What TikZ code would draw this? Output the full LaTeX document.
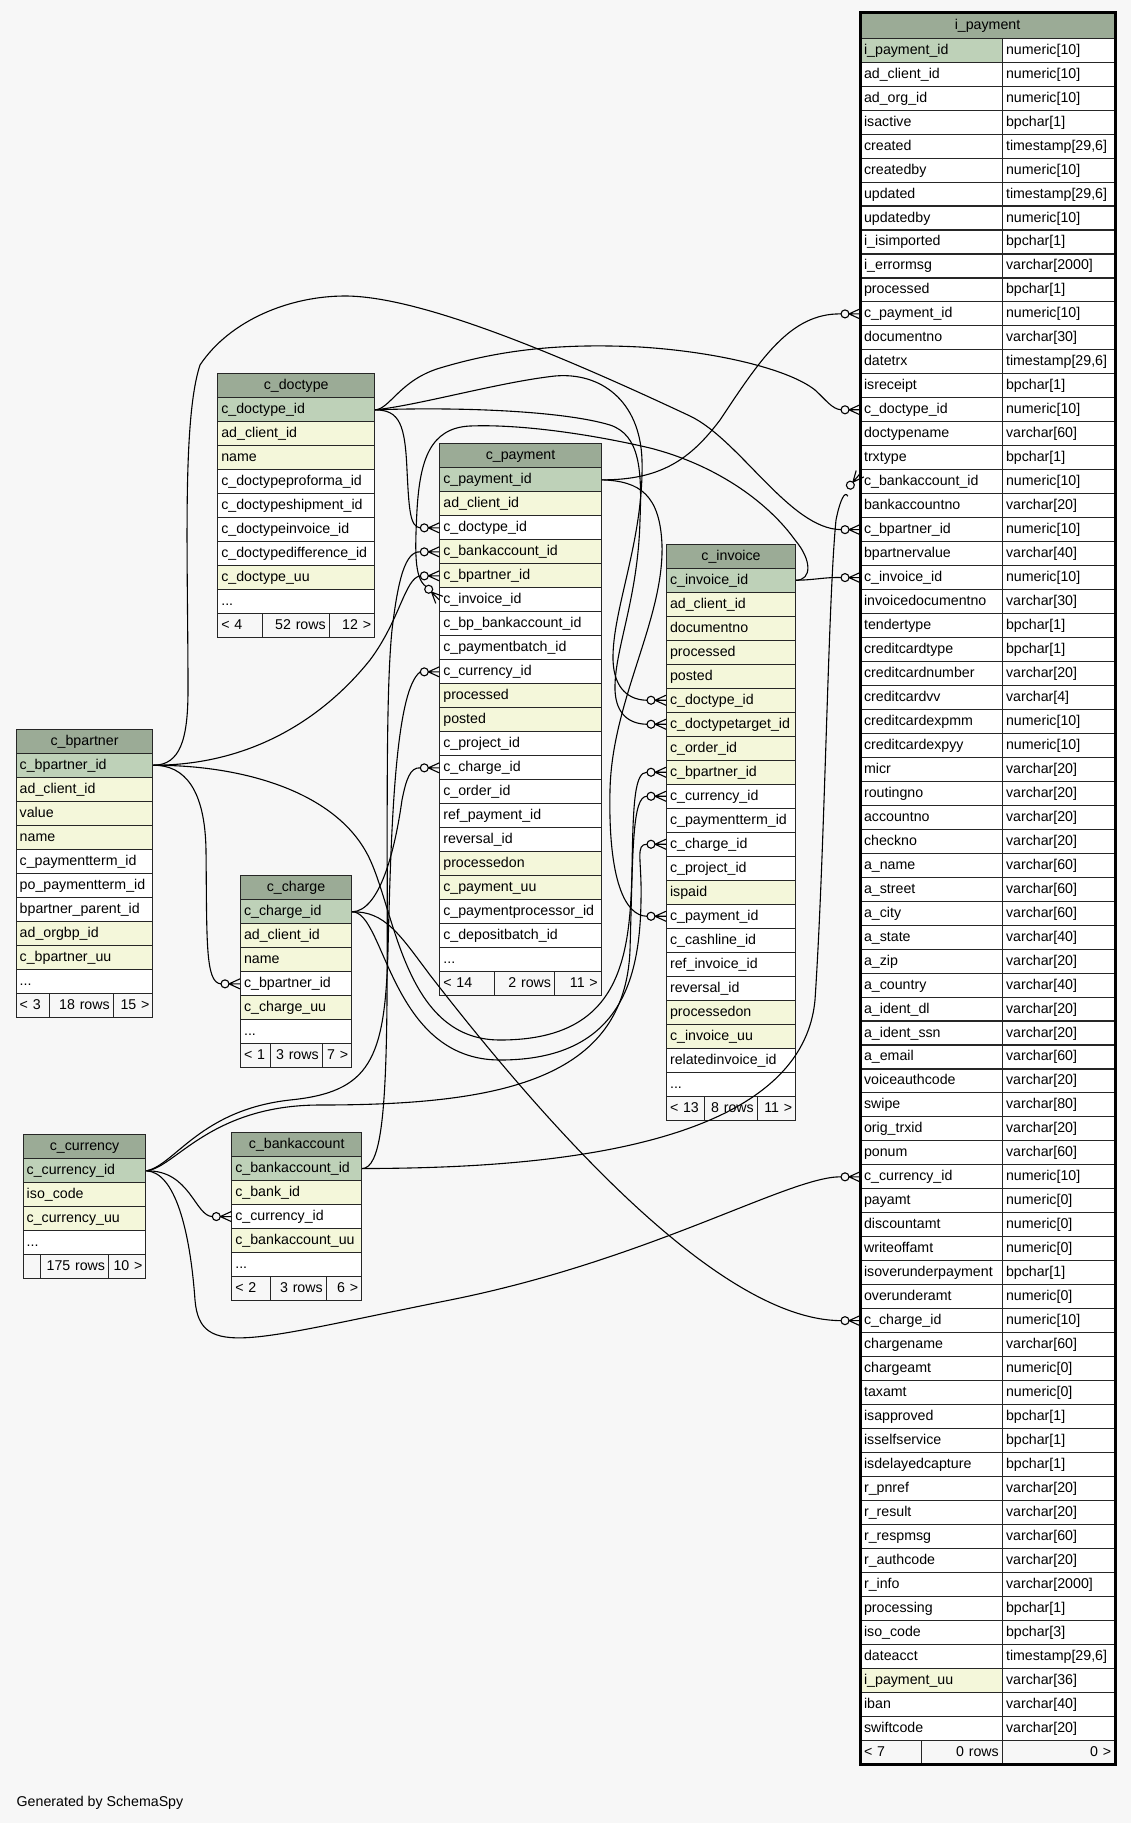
\documentclass[tikz,border=0pt]{standalone}
\usepackage{fontspec}
\setmainfont{Liberation Sans}
\definecolor{bg}{HTML}{F7F7F7}
\definecolor{hd}{HTML}{9BAB96}
\definecolor{pk}{HTML}{BED1B8}
\definecolor{ix}{HTML}{F4F7DA}
\definecolor{wt}{HTML}{FFFFFF}
\definecolor{ft}{HTML}{F7F7F7}
\newcommand\tsix{timestamp[29,6]}
\newcommand\tdots{...}
\tikzset{
  cell/.style={draw=black!85, line width=1.1pt, anchor=north west, minimum height=24pt,
    inner ysep=0pt, inner xsep=3.5pt, font=\fontsize{14.2}{16}\selectfont,
    text height=11pt, text depth=3pt},
  lcell/.style={cell, align=left},
  ccell/.style={cell, align=center},
  rcell/.style={cell, align=right},
  edge/.style={draw=black, line width=1.1pt},
}
% rows: #1 prefix, #2 x, #3 top of first row, #4 text width, #5 list
\newcommand\tblrows[5]{%
  \foreach [count=\k] \c/\t in {#5} {
    \node[lcell, fill=\c, text width=#4] (#1-\k) at (#2, {#3+24*(\k-1)}) {\t};
  }}
\newcommand\fkend[2]{%
  \begin{scope}[shift={#1}, rotate=#2]
    \draw[edge] (-15,0) circle[radius=4];
    \draw[edge] (-11,0) -- (0,-5) (-11,0) -- (0,0) (-11,0) -- (0,5);
  \end{scope}}
\begin{document}
\begin{tikzpicture}[x=1pt,y=-1pt]
\fill[bg] (0,0) rectangle (1131,1823);
\useasboundingbox (0,0) rectangle (1131,1823);

% ---------------- c_doctype
\node[ccell, fill=hd, text width=149.7pt] (dt-h) at (217.3,373.3) {c\_doctype};
\tblrows{dt}{217.3}{397.3}{149.7pt}{pk/c\_doctype\_id, ix/ad\_client\_id, ix/name, wt/c\_doctypeproforma\_id, wt/c\_doctypeshipment\_id, wt/c\_doctypeinvoice\_id, wt/c\_doctypedifference\_id, ix/c\_doctype\_uu, wt/\tdots}
\node[lcell, fill=ft, text width=37.4pt] (dt-f1) at (217.3,613.3) {< 4};
\node[rcell, fill=ft, text width=60pt] (dt-f2) at (261.7,613.3) {52 rows};
\node[rcell, fill=ft, text width=38.3pt] (dt-f3) at (328.7,613.3) {12 >};

% ---------------- c_payment
\node[ccell, fill=hd, text width=154.4pt] (pay-h) at (439.3,443.3) {c\_payment};
\tblrows{pay}{439.3}{467.3}{154.4pt}{pk/c\_payment\_id, ix/ad\_client\_id, wt/c\_doctype\_id, ix/c\_bankaccount\_id, ix/c\_bpartner\_id, wt/c\_invoice\_id, wt/c\_bp\_bankaccount\_id, wt/c\_paymentbatch\_id, wt/c\_currency\_id, ix/processed, ix/posted, wt/c\_project\_id, wt/c\_charge\_id, wt/c\_order\_id, wt/ref\_payment\_id, wt/reversal\_id, ix/processedon, ix/c\_payment\_uu, wt/c\_paymentprocessor\_id, wt/c\_depositbatch\_id, wt/\tdots}
\node[lcell, fill=ft, text width=47.7pt] (pay-f1) at (439.3,971.3) {< 14};
\node[rcell, fill=ft, text width=53pt] (pay-f2) at (494,971.3) {2 rows};
\node[rcell, fill=ft, text width=39.7pt] (pay-f3) at (554,971.3) {11 >};

% ---------------- c_invoice
\node[ccell, fill=hd, text width=122pt] (inv-h) at (666,543.7) {c\_invoice};
\tblrows{inv}{666}{567.7}{122pt}{pk/c\_invoice\_id, ix/ad\_client\_id, ix/documentno, ix/processed, ix/posted, ix/c\_doctype\_id, ix/c\_doctypetarget\_id, ix/c\_order\_id, ix/c\_bpartner\_id, wt/c\_currency\_id, wt/c\_paymentterm\_id, wt/c\_charge\_id, wt/c\_project\_id, ix/ispaid, wt/c\_payment\_id, wt/c\_cashline\_id, wt/ref\_invoice\_id, wt/reversal\_id, ix/processedon, ix/c\_invoice\_uu, wt/relatedinvoice\_id, wt/\tdots}
\node[lcell, fill=ft, text width=31.3pt] (inv-f1) at (666,1095.7) {< 13};
\node[rcell, fill=ft, text width=45.4pt] (inv-f2) at (704.3,1095.7) {8 rows};
\node[rcell, fill=ft, text width=31.3pt] (inv-f3) at (756.7,1095.7) {11 >};

% ---------------- c_bpartner
\node[ccell, fill=hd, text width=129.6pt] (bp-h) at (15.7,728.7) {c\_bpartner};
\tblrows{bp}{15.7}{752.7}{129.6pt}{pk/c\_bpartner\_id, ix/ad\_client\_id, ix/value, ix/name, wt/c\_paymentterm\_id, wt/po\_paymentterm\_id, wt/bpartner\_parent\_id, ix/ad\_orgbp\_id, ix/c\_bpartner\_uu, wt/\tdots}
\node[lcell, fill=ft, text width=26.6pt] (bp-f1) at (15.7,992.7) {< 3};
\node[rcell, fill=ft, text width=56.4pt] (bp-f2) at (49.3,992.7) {18 rows};
\node[rcell, fill=ft, text width=32.6pt] (bp-f3) at (112.7,992.7) {15 >};

% ---------------- c_charge
\node[ccell, fill=hd, text width=104pt] (ch-h) at (240,875.3) {c\_charge};
\tblrows{ch}{240}{899.3}{104pt}{pk/c\_charge\_id, ix/ad\_client\_id, ix/name, wt/c\_bpartner\_id, ix/c\_charge\_uu, wt/\tdots}
\node[lcell, fill=ft, text width=23pt] (ch-f1) at (240,1043.3) {< 1};
\node[rcell, fill=ft, text width=44.7pt] (ch-f2) at (270,1043.3) {3 rows};
\node[rcell, fill=ft, text width=22.3pt] (ch-f3) at (321.7,1043.3) {7 >};

% ---------------- c_currency
\node[ccell, fill=hd, text width=115.6pt] (cu-h) at (22.7,1134.3) {c\_currency};
\tblrows{cu}{22.7}{1158.3}{115.6pt}{pk/c\_currency\_id, ix/iso\_code, ix/c\_currency\_uu, wt/\tdots}
\node[lcell, fill=ft, text width=10.3pt] (cu-f1) at (22.7,1254.3) {};
\node[rcell, fill=ft, text width=61pt] (cu-f2) at (40,1254.3) {175 rows};
\node[rcell, fill=ft, text width=30.3pt] (cu-f3) at (108,1254.3) {10 >};

% ---------------- c_bankaccount
\node[ccell, fill=hd, text width=122.7pt] (ba-h) at (231.3,1132) {c\_bankaccount};
\tblrows{ba}{231.3}{1156}{122.7pt}{pk/c\_bankaccount\_id, ix/c\_bank\_id, wt/c\_currency\_id, ix/c\_bankaccount\_uu, wt/\tdots}
\node[lcell, fill=ft, text width=31.7pt] (ba-f1) at (231.3,1276) {< 2};
\node[rcell, fill=ft, text width=48.7pt] (ba-f2) at (270,1276) {3 rows};
\node[rcell, fill=ft, text width=28.3pt] (ba-f3) at (325.7,1276) {6 >};

% ---------------- i_payment
\node[ccell, fill=hd, text width=247pt, minimum height=25.7pt] (ip-h) at (860,12) {i\_payment};
\foreach [count=\k] \c/\a/\b in {pk/i\_payment\_id/numeric[10], wt/ad\_client\_id/numeric[10], wt/ad\_org\_id/numeric[10], wt/isactive/bpchar[1], wt/created/\tsix, wt/createdby/numeric[10], wt/updated/\tsix, wt/updatedby/numeric[10], wt/i\_isimported/bpchar[1], wt/i\_errormsg/varchar[2000], wt/processed/bpchar[1], wt/c\_payment\_id/numeric[10], wt/documentno/varchar[30], wt/datetrx/\tsix, wt/isreceipt/bpchar[1], wt/c\_doctype\_id/numeric[10], wt/doctypename/varchar[60], wt/trxtype/bpchar[1], wt/c\_bankaccount\_id/numeric[10], wt/bankaccountno/varchar[20], wt/c\_bpartner\_id/numeric[10], wt/bpartnervalue/varchar[40], wt/c\_invoice\_id/numeric[10], wt/invoicedocumentno/varchar[30], wt/tendertype/bpchar[1], wt/creditcardtype/bpchar[1], wt/creditcardnumber/varchar[20], wt/creditcardvv/varchar[4], wt/creditcardexpmm/numeric[10], wt/creditcardexpyy/numeric[10], wt/micr/varchar[20], wt/routingno/varchar[20], wt/accountno/varchar[20], wt/checkno/varchar[20], wt/a\_name/varchar[60], wt/a\_street/varchar[60], wt/a\_city/varchar[60], wt/a\_state/varchar[40], wt/a\_zip/varchar[20], wt/a\_country/varchar[40], wt/a\_ident\_dl/varchar[20], wt/a\_ident\_ssn/varchar[20], wt/a\_email/varchar[60], wt/voiceauthcode/varchar[20], wt/swipe/varchar[80], wt/orig\_trxid/varchar[20], wt/ponum/varchar[60], wt/c\_currency\_id/numeric[10], wt/payamt/numeric[0], wt/discountamt/numeric[0], wt/writeoffamt/numeric[0], wt/isoverunderpayment/bpchar[1], wt/overunderamt/numeric[0], wt/c\_charge\_id/numeric[10], wt/chargename/varchar[60], wt/chargeamt/numeric[0], wt/taxamt/numeric[0], wt/isapproved/bpchar[1], wt/isselfservice/bpchar[1], wt/isdelayedcapture/bpchar[1], wt/r\_pnref/varchar[20], wt/r\_result/varchar[20], wt/r\_respmsg/varchar[60], wt/r\_authcode/varchar[20], wt/r\_info/varchar[2000], wt/processing/bpchar[1], wt/iso\_code/bpchar[3], wt/dateacct/\tsix, ix/i\_payment\_uu/varchar[36], wt/iban/varchar[40], wt/swiftcode/varchar[20]} {
  \node[lcell, fill=\c, text width=135pt, minimum height=23.97pt] (ipL-\k) at (860, {37.7+23.97*(\k-1)}) {\a};
  \node[lcell, fill=wt, text width=105pt, minimum height=23.97pt] (ipR-\k) at (1002, {37.7+23.97*(\k-1)}) {\b};
}
\node[lcell, fill=ft, text width=53.7pt, minimum height=23.97pt] (ip-f1) at (860,1739.6) {< 7};
\node[rcell, fill=ft, text width=74pt, minimum height=23.97pt] (ip-f2) at (920.7,1739.6) {0 rows};
\node[rcell, fill=ft, text width=105pt, minimum height=23.97pt] (ip-f3) at (1002,1739.6) {0 >};
\draw[line width=3pt] (ip-h.north west) rectangle (ip-f3.south east);

\node[anchor=west, font=\fontsize{14.2}{16}\selectfont, inner sep=0pt] (gen) at (16.5,1803) {Generated by SchemaSpy};

% ---------------- connectors
% c_payment -> i_payment.c_payment_id
\draw[edge] (pay-1.east) .. controls (660,480) and (690,460) .. (720,420) .. controls (760,360) and (790,313) .. ([shift={(-19,0)}]ipL-12.west);
\fkend{(ipL-12.west)}{0}
% c_doctype -> i_payment.c_doctype_id
\draw[edge] (dt-1.east) .. controls (390,409) and (400,380) .. (440,368) .. controls (500,350) and (560,343) .. (640,347) .. controls (720,352) and (790,370) .. (815,390) .. controls (826,400) and (832,409) .. ([shift={(-19,0)}]ipL-16.west);
\fkend{(ipL-16.west)}{0}
% c_doctype -> c_payment.c_doctype_id
\draw[edge] (dt-1.east) .. controls (400,410) and (405,425) .. (407,470) .. controls (409,510) and (410,527) .. ([shift={(-19,0)}]pay-3.west);
\fkend{(pay-3.west)}{0}
% c_doctype -> c_invoice.c_doctype_id
\draw[edge] (dt-1.east) .. controls (420,405) and (500,382) .. (555,376) .. controls (600,372) and (640,400) .. (642,460) .. controls (644,540) and (612,610) .. (613,660) .. controls (614,690) and (630,700) .. ([shift={(-19,0)}]inv-6.west);
\fkend{(inv-6.west)}{0}
% c_doctype -> c_invoice.c_doctypetarget_id
\draw[edge] (dt-1.east) .. controls (450,407) and (560,410) .. (610,425) .. controls (640,435) and (642,470) .. (640,520) .. controls (638,600) and (614,650) .. (615,690) .. controls (616,715) and (630,724) .. ([shift={(-19,0)}]inv-7.west);
\fkend{(inv-7.west)}{0}
% c_payment -> c_invoice.c_payment_id
\draw[edge] (pay-1.east) .. controls (640,481) and (660,495) .. (662,545) .. controls (664,620) and (612,700) .. (610,790) .. controls (608,880) and (625,916) .. ([shift={(-19,0)}]inv-15.west);
\fkend{(inv-15.west)}{0}
% c_invoice -> c_payment.c_invoice_id
\draw[edge] (inv-1.east) .. controls (812,580) and (812,560) .. (795,540) .. controls (770,505) and (720,466) .. (650,448) .. controls (590,434) and (520,424) .. (470,426) .. controls (430,428) and (420,460) .. (417,510) .. controls (415,550) and (414,578) .. ([shift={(-13.4,-13.4)}]pay-6.west);
\fkend{(pay-6.west)}{-45}
% c_invoice -> i_payment.c_invoice_id
\draw[edge] (inv-1.east) .. controls (815,580) and (825,577) .. ([shift={(-19,0)}]ipL-23.west);
\fkend{(ipL-23.west)}{0}
% c_bpartner -> i_payment.c_bpartner_id
\draw[edge] (bp-1.east) .. controls (180,765) and (188,740) .. (188,690) .. controls (188,560) and (182,420) .. (200,365) .. controls (230,320) and (290,296) .. (345,296) .. controls (420,296) and (560,355) .. (690,416) .. controls (740,440) and (790,529) .. ([shift={(-19,0)}]ipL-21.west);
\fkend{(ipL-21.west)}{0}
% c_bpartner -> c_payment.c_bpartner_id
\draw[edge] (bp-1.east) .. controls (260,765) and (330,710) .. (370,660) .. controls (400,620) and (405,578) .. ([shift={(-19,0)}]pay-5.west);
\fkend{(pay-5.west)}{0}
% c_bpartner -> c_charge.c_bpartner_id
\draw[edge] (bp-1.east) .. controls (185,765) and (205,790) .. (206,850) .. controls (207,940) and (205,983) .. ([shift={(-19,0)}]ch-4.west);
\fkend{(ch-4.west)}{0}
% c_bpartner -> c_invoice.c_bpartner_id
\draw[edge] (bp-1.east) .. controls (240,765) and (330,790) .. (365,850) .. controls (395,900) and (400,1040) .. (500,1040) .. controls (620,1040) and (630,960) .. (632,870) .. controls (633,800) and (635,772) .. ([shift={(-19,0)}]inv-9.west);
\fkend{(inv-9.west)}{0}
% c_charge -> c_payment.c_charge_id
\draw[edge] (ch-1.east) .. controls (380,911) and (395,850) .. (402,800) .. controls (406,780) and (410,767) .. ([shift={(-19,0)}]pay-13.west);
\fkend{(pay-13.west)}{0}
% c_charge -> c_invoice.c_charge_id
\draw[edge] (ch-1.east) .. controls (385,911) and (390,1060) .. (500,1060) .. controls (620,1060) and (640,980) .. (641,900) .. controls (642,860) and (635,844) .. ([shift={(-19,0)}]inv-12.west);
\fkend{(inv-12.west)}{0}
% c_charge -> i_payment.c_charge_id
\draw[edge] (ch-1.east) .. controls (385,911) and (400,935) .. (430,975) .. controls (550,1130) and (720,1320) .. ([shift={(-19,0)}]ipL-54.west);
\fkend{(ipL-54.west)}{0}
% c_currency -> c_bankaccount.c_currency_id
\draw[edge] (cu-1.east) .. controls (190,1170) and (195,1216) .. ([shift={(-19,0)}]ba-3.west);
\fkend{(ba-3.west)}{0}
% c_currency -> c_payment.c_currency_id
\draw[edge] (cu-1.east) .. controls (175,1165) and (200,1110) .. (290,1100) .. controls (370,1092) and (385,1060) .. (388,950) .. controls (391,830) and (395,690) .. ([shift={(-19,0)}]pay-9.west);
\fkend{(pay-9.west)}{0}
% c_currency -> c_invoice.c_currency_id
\draw[edge] (cu-1.east) .. controls (175,1168) and (210,1105) .. (320,1105) .. controls (500,1105) and (625,1080) .. (630,950) .. controls (633,850) and (632,796) .. ([shift={(-19,0)}]inv-10.west);
\fkend{(inv-10.west)}{0}
% c_currency -> i_payment.c_currency_id
\draw[edge] (cu-1.east) .. controls (175,1172) and (190,1230) .. (195,1300) .. controls (200,1360) and (250,1340) .. (450,1300) .. controls (650,1260) and (790,1176) .. ([shift={(-19,0)}]ipL-48.west);
\fkend{(ipL-48.west)}{0}
% c_bankaccount -> c_payment.c_bankaccount_id
\draw[edge] (ba-1.east) .. controls (380,1168) and (386,1120) .. (387,1000) .. controls (388,850) and (385,700) .. (392,630) .. controls (398,580) and (405,551) .. ([shift={(-19,0)}]pay-4.west);
\fkend{(pay-4.west)}{0}
% c_bankaccount -> i_payment.c_bankaccount_id
\draw[edge] (ba-1.east) .. controls (500,1168) and (800,1160) .. (815,1000) .. controls (825,850) and (828,600) .. (836,520) .. controls (840,500) and (845,490) .. ([shift={(-12.2,14.6)}]ipL-19.west);
\fkend{([shift={(0,-8)}]ipL-19.west)}{50}
\end{tikzpicture}
\end{document}
